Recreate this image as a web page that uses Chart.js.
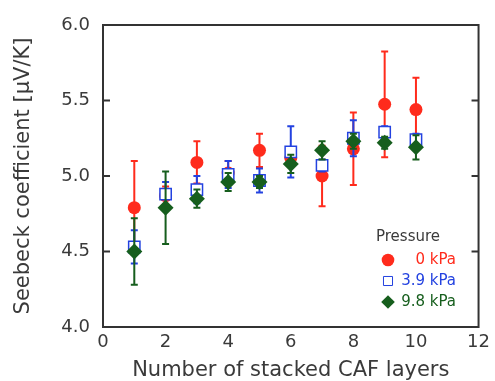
<!DOCTYPE html>
<html>
<head>
<meta charset="utf-8">
<script src="https://cdn.jsdelivr.net/npm/chart.js@4/dist/chart.umd.min.js"></script>
<style>
  html, body { margin: 0; padding: 0; background: #fff; }
  #wrap { width: 495px; height: 381px; }
</style>
</head>
<body>
<div id="wrap"><canvas id="chart" width="495" height="381"></canvas></div>
<script>
// number of stacked layers
const layers = [1, 2, 3, 4, 5, 6, 7, 8, 9, 10];

// Seebeck coefficient per pressure, with error half-widths
const p0 = [4.79, 4.87, 5.09, 5.02, 5.17, 5.12, 5.00, 5.18, 5.475, 5.44];
const p0Err = [0.31, 0.06, 0.14, 0.08, 0.11, 0.05, 0.20, 0.24, 0.35, 0.21];
const p39 = [4.53, 4.88, 4.91, 5.01, 4.97, 5.16, 5.07, 5.25, 5.29, 5.24];
const p39Err = [0.11, 0.08, 0.09, 0.09, 0.08, 0.17, 0.04, 0.12, 0.04, 0.04];
const p98 = [4.50, 4.79, 4.85, 4.96, 4.96, 5.08, 5.17, 5.23, 5.22, 5.19];
const p98Err = [0.22, 0.24, 0.06, 0.06, 0.04, 0.06, 0.06, 0.05, 0.04, 0.08];

const seriesLabels = ['0 kPa', '3.9 kPa', '9.8 kPa'];
const yTicks = [4.0, 4.5, 5.0, 5.5, 6.0];

const RED = '#ff2b1c';
const BLUE = '#2342e0';
const GREEN = '#165e1d';
const AXIS = '#333';
const TEXT = '#3a3a3a';
const FONT = "'DejaVu Sans', sans-serif";

function toPoints(vals, errs) {
  return layers.map((x, i) => ({ x: x, y: vals[i], err: errs[i] }));
}

// error bars drawn just before each dataset's own markers
const errorBars = {
  id: 'errorBars',
  beforeDatasetDraw(chart, args) {
    const ctx = chart.ctx;
    const ds = chart.data.datasets[args.index];
    const xs = chart.scales.x, ys = chart.scales.y;
    ctx.save();
    ctx.strokeStyle = ds.barColor;
    ctx.lineWidth = 2;
    ds.data.forEach((p) => {
      const px = xs.getPixelForValue(p.x);
      const top = ys.getPixelForValue(p.y + p.err);
      const bot = ys.getPixelForValue(p.y - p.err);
      ctx.beginPath();
      ctx.moveTo(px, top); ctx.lineTo(px, bot);
      ctx.moveTo(px - 3.5, top); ctx.lineTo(px + 3.5, top);
      ctx.moveTo(px - 3.5, bot); ctx.lineTo(px + 3.5, bot);
      ctx.stroke();
    });
    ctx.restore();
  },
};

// box frame with inward ticks on left and right
const frame = {
  id: 'frame',
  afterDatasetsDraw(chart) {
    const { ctx, chartArea: a } = chart;
    const ys = chart.scales.y;
    ctx.save();
    ctx.strokeStyle = AXIS;
    ctx.lineWidth = 2;
    ctx.strokeRect(a.left, a.top, a.right - a.left, a.bottom - a.top);
    ctx.beginPath();
    yTicks.forEach((v) => {
      const py = ys.getPixelForValue(v);
      ctx.moveTo(a.left, py); ctx.lineTo(a.left + 7, py);
      ctx.moveTo(a.right, py); ctx.lineTo(a.right - 7, py);
    });
    ctx.stroke();
    ctx.restore();
  },
};

// legend box at lower right
const pressureLegend = {
  id: 'pressureLegend',
  afterDraw(chart) {
    const ctx = chart.ctx;
    ctx.save();
    ctx.font = '15px ' + FONT;
    ctx.fillStyle = TEXT;
    ctx.textBaseline = 'middle';
    ctx.textAlign = 'left';
    ctx.fillText('Pressure', 376, 237);
    const rows = [260, 281, 302];
    chart.data.datasets.forEach((ds, i) => {
      ctx.save();
      ctx.fillStyle = ds.legendPointBg;
      ctx.strokeStyle = ds.borderColor;
      ctx.lineWidth = ds.legendBorderWidth;
      Chart.helpers.drawPoint(ctx, { pointStyle: ds.pointStyle, radius: ds.legendRadius, rotation: 0, borderWidth: ds.legendBorderWidth }, 388, rows[i]);
      ctx.restore();
      ctx.fillStyle = ds.barColor;
      ctx.textAlign = 'right';
      ctx.fillText(seriesLabels[i], 456, rows[i]);
    });
    ctx.restore();
  },
};

new Chart(document.getElementById('chart'), {
  type: 'scatter',
  data: {
    datasets: [
      {
        label: seriesLabels[0],
        data: toPoints(p0, p0Err),
        pointStyle: 'circle',
        radius: 6.5,
        backgroundColor: RED,
        borderColor: RED,
        borderWidth: 0,
        barColor: RED,
        legendPointBg: RED,
        legendRadius: 6.3,
        legendBorderWidth: 0,
        order: 3,
      },
      {
        label: seriesLabels[1],
        data: toPoints(p39, p39Err),
        pointStyle: 'rect',
        radius: 8,
        backgroundColor: '#fff',
        borderColor: BLUE,
        borderWidth: 1.5,
        barColor: BLUE,
        legendPointBg: '#fff',
        legendRadius: 6.4,
        legendBorderWidth: 1,
        order: 2,
      },
      {
        label: seriesLabels[2],
        data: toPoints(p98, p98Err),
        pointStyle: 'rectRot',
        radius: 8,
        backgroundColor: GREEN,
        borderColor: GREEN,
        borderWidth: 0,
        barColor: GREEN,
        legendPointBg: GREEN,
        legendRadius: 6.8,
        legendBorderWidth: 0,
        order: 1,
      },
    ],
  },
  options: {
    responsive: false,
    animation: false,
    layout: { padding: { top: 25, right: 13, left: 0, bottom: 0 } },
    plugins: {
      legend: { display: false },
      tooltip: { enabled: false },
    },
    scales: {
      x: {
        type: 'linear',
        min: 0,
        max: 12,
        grid: { display: false, drawTicks: false },
        border: { display: false },
        ticks: { stepSize: 2, color: TEXT, font: { family: FONT, size: 18 }, padding: 5 },
        title: {
          display: true,
          text: 'Number of stacked CAF layers',
          color: TEXT,
          font: { family: FONT, size: 21, lineHeight: 1 },
          padding: { top: 0, bottom: 0 },
        },
        afterFit(scale) { scale.height = 54; },
      },
      y: {
        type: 'linear',
        min: 4,
        max: 6,
        grid: { display: false, drawTicks: false },
        border: { display: false },
        ticks: {
          stepSize: 0.5,
          color: TEXT,
          font: { family: FONT, size: 18 },
          padding: 13,
          callback: (v) => v.toFixed(1),
        },
        title: {
          display: true,
          text: 'Seebeck coefficient [\u03bcV/K]',
          color: TEXT,
          font: { family: FONT, size: 21 },
          padding: { top: 11, bottom: 0 },
        },
        afterFit(scale) { scale.width = 103; },
      },
    },
  },
  plugins: [errorBars, frame, pressureLegend],
});
</script>
</body>
</html>
